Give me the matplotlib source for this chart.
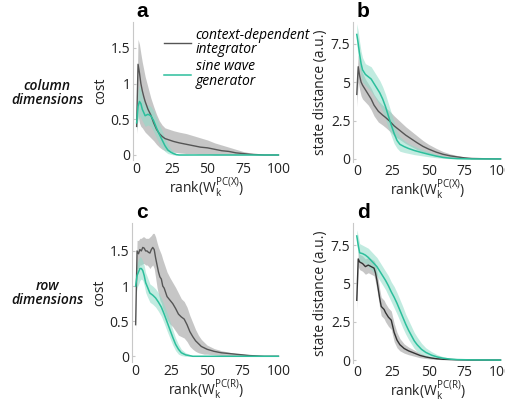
"""
Low-rank perturbation results: cost / state distance vs. rank of W_k.
Rows: column vs row dimensions. Two networks overlaid with shaded spread.
"""
import matplotlib

matplotlib.use("Agg")
import matplotlib.pyplot as plt  # noqa: E402
from matplotlib.lines import Line2D  # noqa: E402
from matplotlib.ticker import FormatStrFormatter  # noqa: E402

plt.rcParams["font.family"] = ["Open Sans", "DejaVu Sans"]
plt.rcParams["mathtext.fontset"] = "custom"
plt.rcParams["mathtext.rm"] = "Open Sans"

GREY = "#555555"
GREY_FILL = "#b4b4b4"
TEAL = "#2cbf9c"
TEAL_FILL = "#8fdcc8"

# ---- panel a : column dimensions, cost ----
rank_a_ci = [0, 1, 2, 3, 4, 5, 6, 8, 10, 12, 14, 16, 18, 20, 23, 26, 30, 35, 40, 45, 50,
             55, 60, 65, 70, 75, 80, 85, 90, 100]
cost_a_ci = [0.40, 1.27, 1.15, 1.00, 0.90, 0.82, 0.75, 0.64, 0.56, 0.45, 0.36, 0.30, 0.26,
             0.23, 0.21, 0.19, 0.17, 0.15, 0.13, 0.11, 0.10, 0.08, 0.06, 0.05, 0.03, 0.02,
             0.01, 0.005, 0.0, 0.0]
hi_a_ci = [0.55, 1.62, 1.55, 1.42, 1.30, 1.20, 1.10, 0.95, 0.80, 0.68, 0.57, 0.48, 0.42,
           0.38, 0.36, 0.34, 0.32, 0.30, 0.27, 0.24, 0.21, 0.17, 0.14, 0.11, 0.08, 0.05,
           0.03, 0.01, 0.0, 0.0]
lo_a_ci = [0.30, 0.55, 0.45, 0.40, 0.38, 0.35, 0.32, 0.28, 0.24, 0.20, 0.15, 0.11, 0.08,
           0.06, 0.05, 0.04, 0.03, 0.02, 0.02, 0.01, 0.01, 0.0, 0.0, 0.0, 0.0, 0.0,
           0.0, 0.0, 0.0, 0.0]

rank_a_sw = [0, 1, 2, 3, 4, 6, 8, 10, 12, 14, 16, 18, 20, 22, 24, 26, 28, 30, 40, 100]
cost_a_sw = [0.45, 0.68, 0.75, 0.72, 0.64, 0.55, 0.57, 0.55, 0.48, 0.38, 0.29, 0.21, 0.13,
             0.07, 0.04, 0.02, 0.005, 0.0, 0.0, 0.0]
hi_a_sw = [0.55, 0.90, 0.98, 0.92, 0.82, 0.72, 0.70, 0.68, 0.62, 0.52, 0.43, 0.34, 0.24,
           0.15, 0.09, 0.05, 0.02, 0.01, 0.0, 0.0]
lo_a_sw = [0.35, 0.50, 0.55, 0.52, 0.48, 0.40, 0.42, 0.40, 0.33, 0.24, 0.16, 0.10, 0.05,
           0.02, 0.01, 0.0, 0.0, 0.0, 0.0, 0.0]

# ---- panel b : column dimensions, state distance ----
rank_b_ci = [0, 1, 2, 3, 4, 6, 8, 10, 12, 15, 18, 20, 23, 26, 30, 34, 38, 42, 46, 50, 55,
             60, 65, 70, 75, 80, 90, 100]
dist_b_ci = [4.2, 6.0, 5.4, 5.0, 4.8, 4.5, 4.2, 3.9, 3.5, 3.1, 2.85, 2.7, 2.45, 2.15, 1.85,
             1.55, 1.3, 1.05, 0.82, 0.64, 0.45, 0.30, 0.20, 0.13, 0.07, 0.03, 0.01, 0.0]
hi_b_ci = [5.2, 6.8, 6.3, 5.9, 5.6, 5.2, 4.9, 4.6, 4.2, 3.8, 3.5, 3.35, 3.1, 2.8, 2.45,
           2.1, 1.8, 1.5, 1.2, 0.95, 0.70, 0.48, 0.33, 0.22, 0.12, 0.06, 0.02, 0.0]
lo_b_ci = [3.4, 5.0, 4.5, 4.1, 3.9, 3.7, 3.5, 3.2, 2.8, 2.4, 2.2, 2.05, 1.8, 1.5, 1.25,
           1.0, 0.8, 0.6, 0.45, 0.33, 0.20, 0.12, 0.07, 0.04, 0.02, 0.0, 0.0, 0.0]

rank_b_sw = [0, 1, 2, 3, 4, 6, 8, 10, 12, 14, 16, 18, 20, 22, 24, 26, 28, 30, 33, 36, 40,
             45, 50, 55, 60, 65, 70, 80, 100]
dist_b_sw = [8.1, 7.5, 6.8, 6.2, 5.8, 5.5, 5.35, 5.2, 4.9, 4.6, 4.3, 3.9, 3.4, 2.8, 2.2,
             1.65, 1.2, 0.95, 0.80, 0.68, 0.55, 0.42, 0.30, 0.19, 0.10, 0.05, 0.02, 0.0, 0.0]
hi_b_sw = [8.8, 8.3, 7.6, 7.0, 6.6, 6.2, 6.1, 6.0, 5.7, 5.4, 5.1, 4.7, 4.2, 3.6, 3.0,
           2.4, 1.8, 1.45, 1.2, 1.0, 0.82, 0.63, 0.46, 0.30, 0.17, 0.09, 0.04, 0.01, 0.0]
lo_b_sw = [7.4, 6.7, 6.0, 5.4, 5.0, 4.8, 4.6, 4.4, 4.1, 3.8, 3.5, 3.1, 2.6, 2.0, 1.5,
           1.0, 0.7, 0.5, 0.42, 0.36, 0.28, 0.21, 0.14, 0.08, 0.04, 0.01, 0.0, 0.0, 0.0]

# ---- panel c : row dimensions, cost ----
rank_c_ci = [0, 1, 2, 3, 4, 5, 6, 7, 8, 9, 10, 11, 12, 13, 14, 15, 16, 17, 18, 19, 20, 22,
             24, 26, 28, 30, 32, 34, 36, 38, 40, 42, 44, 46, 48, 50, 55, 60, 65, 70, 75, 80,
             90, 100]
cost_c_ci = [0.45, 1.50, 1.46, 1.52, 1.50, 1.55, 1.54, 1.50, 1.50, 1.48, 1.47, 1.52, 1.55,
             1.52, 1.40, 1.30, 1.20, 1.13, 1.10, 1.00, 0.97, 0.85, 0.80, 0.75, 0.68, 0.60,
             0.56, 0.53, 0.45, 0.35, 0.28, 0.22, 0.18, 0.14, 0.12, 0.10, 0.07, 0.05, 0.04,
             0.03, 0.02, 0.01, 0.0, 0.0]
hi_c_ci = [0.60, 1.65, 1.65, 1.68, 1.68, 1.70, 1.70, 1.68, 1.68, 1.68, 1.70, 1.72, 1.75,
           1.75, 1.70, 1.62, 1.55, 1.50, 1.45, 1.38, 1.32, 1.20, 1.12, 1.05, 0.98, 0.90,
           0.82, 0.78, 0.70, 0.58, 0.48, 0.38, 0.30, 0.24, 0.20, 0.16, 0.11, 0.08, 0.06,
           0.04, 0.03, 0.02, 0.005, 0.0]
lo_c_ci = [0.35, 1.25, 1.25, 1.30, 1.30, 1.32, 1.32, 1.30, 1.30, 1.28, 1.25, 1.28, 1.30,
           1.25, 1.12, 0.98, 0.88, 0.80, 0.76, 0.68, 0.63, 0.52, 0.46, 0.42, 0.36, 0.30,
           0.28, 0.26, 0.21, 0.14, 0.10, 0.07, 0.05, 0.04, 0.03, 0.03, 0.02, 0.01, 0.01,
           0.01, 0.0, 0.0, 0.0, 0.0]

rank_c_sw = [0, 1, 2, 3, 4, 5, 6, 7, 8, 10, 12, 14, 16, 18, 20, 22, 24, 26, 28, 30, 32, 35,
             40, 50, 100]
cost_c_sw = [1.00, 1.15, 1.20, 1.25, 1.25, 1.22, 1.15, 1.05, 1.00, 0.90, 0.87, 0.83, 0.77,
             0.70, 0.60, 0.49, 0.38, 0.27, 0.17, 0.10, 0.05, 0.02, 0.0, 0.0, 0.0]
hi_c_sw = [1.15, 1.32, 1.38, 1.42, 1.40, 1.36, 1.29, 1.19, 1.14, 1.03, 1.00, 0.96, 0.90,
           0.83, 0.73, 0.62, 0.50, 0.38, 0.26, 0.17, 0.10, 0.05, 0.01, 0.0, 0.0]
lo_c_sw = [0.85, 0.98, 1.02, 1.08, 1.10, 1.08, 1.01, 0.91, 0.86, 0.77, 0.74, 0.70, 0.64,
           0.57, 0.47, 0.36, 0.26, 0.16, 0.08, 0.03, 0.01, 0.0, 0.0, 0.0, 0.0]

# ---- panel d : row dimensions, state distance ----
rank_d_ci = [0, 1, 2, 4, 6, 8, 10, 12, 13, 14, 15, 16, 17, 18, 19, 20, 22, 24, 25, 26, 28,
             30, 33, 36, 40, 44, 48, 52, 56, 60, 70, 80, 100]
dist_d_ci = [3.9, 6.6, 6.4, 6.3, 6.1, 6.2, 6.1, 6.0, 5.7, 5.2, 4.6, 4.0, 3.5, 3.4, 3.3,
             3.1, 2.8, 2.6, 2.2, 1.8, 1.3, 1.0, 0.75, 0.60, 0.45, 0.30, 0.20, 0.13, 0.08,
             0.05, 0.02, 0.0, 0.0]
hi_d_ci = [4.5, 7.1, 6.9, 6.8, 6.6, 6.7, 6.6, 6.5, 6.3, 5.8, 5.2, 4.6, 4.1, 4.0, 3.9,
           3.7, 3.4, 3.2, 2.8, 2.4, 1.8, 1.4, 1.05, 0.85, 0.65, 0.45, 0.30, 0.20, 0.12,
           0.08, 0.03, 0.01, 0.0]
lo_d_ci = [3.3, 6.1, 5.9, 5.8, 5.6, 5.7, 5.6, 5.5, 5.1, 4.6, 4.0, 3.4, 2.9, 2.8, 2.7,
           2.5, 2.2, 2.0, 1.6, 1.2, 0.8, 0.6, 0.45, 0.35, 0.25, 0.15, 0.10, 0.06, 0.04,
           0.02, 0.01, 0.0, 0.0]

rank_d_sw = [0, 1, 2, 4, 6, 8, 10, 12, 14, 16, 18, 20, 22, 24, 26, 28, 30, 32, 34, 36, 38,
             40, 42, 45, 48, 52, 56, 60, 65, 70, 80, 100]
dist_d_sw = [8.1, 7.5, 7.0, 6.95, 6.85, 6.7, 6.5, 6.3, 6.1, 5.8, 5.5, 5.2, 4.85, 4.45,
             4.1, 3.7, 3.25, 2.8, 2.35, 1.95, 1.6, 1.25, 1.0, 0.70, 0.50, 0.32, 0.20, 0.12,
             0.06, 0.03, 0.01, 0.0]
hi_d_sw = [8.5, 8.1, 7.6, 7.5, 7.4, 7.3, 7.1, 6.9, 6.7, 6.4, 6.1, 5.8, 5.5, 5.1, 4.8,
           4.4, 3.95, 3.5, 3.0, 2.6, 2.2, 1.8, 1.5, 1.1, 0.80, 0.55, 0.35, 0.22, 0.12,
           0.06, 0.02, 0.0]
lo_d_sw = [7.6, 6.9, 6.4, 6.4, 6.3, 6.1, 5.9, 5.7, 5.5, 5.2, 4.9, 4.6, 4.2, 3.8, 3.4,
           3.0, 2.55, 2.1, 1.7, 1.35, 1.05, 0.75, 0.55, 0.35, 0.22, 0.12, 0.07, 0.04,
           0.02, 0.01, 0.0, 0.0]

panels = [
    # letter, axes rect, ylabel, yticks, ylim, xlabel tag, series
    ("a", [0.263, 0.603, 0.290, 0.342], "cost", [0, 0.5, 1, 1.5], (-0.07, 1.86), "X",
     (rank_a_ci, cost_a_ci, lo_a_ci, hi_a_ci), (rank_a_sw, cost_a_sw, lo_a_sw, hi_a_sw)),
    ("b", [0.698, 0.598, 0.294, 0.347], "state distance (a.u.)", [0, 2.5, 5, 7.5], (-0.2, 8.9), "X",
     (rank_b_ci, dist_b_ci, lo_b_ci, hi_b_ci), (rank_b_sw, dist_b_sw, lo_b_sw, hi_b_sw)),
    ("c", [0.261, 0.102, 0.292, 0.345], "cost", [0, 0.5, 1, 1.5], (-0.08, 1.90), "R",
     (rank_c_ci, cost_c_ci, lo_c_ci, hi_c_ci), (rank_c_sw, cost_c_sw, lo_c_sw, hi_c_sw)),
    ("d", [0.698, 0.099, 0.294, 0.347], "state distance (a.u.)", [0, 2.5, 5, 7.5], (-0.2, 8.93), "R",
     (rank_d_ci, dist_d_ci, lo_d_ci, hi_d_ci), (rank_d_sw, dist_d_sw, lo_d_sw, hi_d_sw)),
]

fig = plt.figure(figsize=(5.06, 4.03), dpi=100)

axes = {}
for letter, rect, ylab, yt, yl, tag, ci, sw in panels:
    ax = fig.add_axes(rect)
    axes[letter] = ax
    ci_line = "#333333" if letter == "d" else GREY
    ax.fill_between(ci[0], ci[2], ci[3], color=GREY_FILL, alpha=0.75, lw=0)
    ax.fill_between(sw[0], sw[2], sw[3], color=TEAL_FILL, alpha=0.55, lw=0)
    ax.plot(ci[0], ci[1], color=ci_line, lw=1.0)
    ax.plot(sw[0], sw[1], color=TEAL, lw=1.1)

    ax.set_xlim(-2.5, 101)
    ax.set_ylim(*yl)
    ax.set_xticks([0, 25, 50, 75, 100])
    ax.set_yticks(yt)
    ax.yaxis.set_major_formatter(FormatStrFormatter("%g"))
    for s in ("top", "right", "bottom"):
        ax.spines[s].set_visible(False)
    ax.spines["left"].set_color("#c8c8c8")
    ax.tick_params(axis="y", direction="in", length=2, color="#c8c8c8",
                   labelsize=10, labelcolor="#222222", pad=2)
    ax.tick_params(axis="x", length=0, labelsize=10, labelcolor="#222222", pad=1.5)
    ax.set_ylabel(ylab, fontsize=10, color="#222222", labelpad=2)
    ax.set_xlabel(r"rank($\mathregular{W_k^{PC(%s)}}$)" % tag, fontsize=10,
                  color="#222222", labelpad=-1)
    ax.text(0.025, 1.035, letter, transform=ax.transAxes, fontsize=15, fontweight="bold",
            family=["Liberation Sans", "DejaVu Sans"], va="baseline", ha="left")

handles = [Line2D([], [], color=GREY, lw=1.0), Line2D([], [], color=TEAL, lw=1.1)]
leg = axes["a"].legend(handles, ["context-dependent\nintegrator", "sine wave\ngenerator"],
                       loc="upper left", bbox_to_anchor=(0.17, 1.0), frameon=False,
                       handlelength=2.0, handletextpad=0.3, labelspacing=0.15,
                       borderaxespad=0, prop={"size": 10, "style": "italic"})
for t in leg.get_texts():
    t.set_linespacing(0.95)

row_kw = dict(fontsize=10, style="italic", fontweight="semibold", ha="center", va="center",
              linespacing=1.05, color="#111111")
fig.text(47 / 506, 1 - 93 / 403, "column\ndimensions", **row_kw)
fig.text(47 / 506, 1 - 293 / 403, "row\ndimensions", **row_kw)

fig.savefig("out.png", dpi=100)
